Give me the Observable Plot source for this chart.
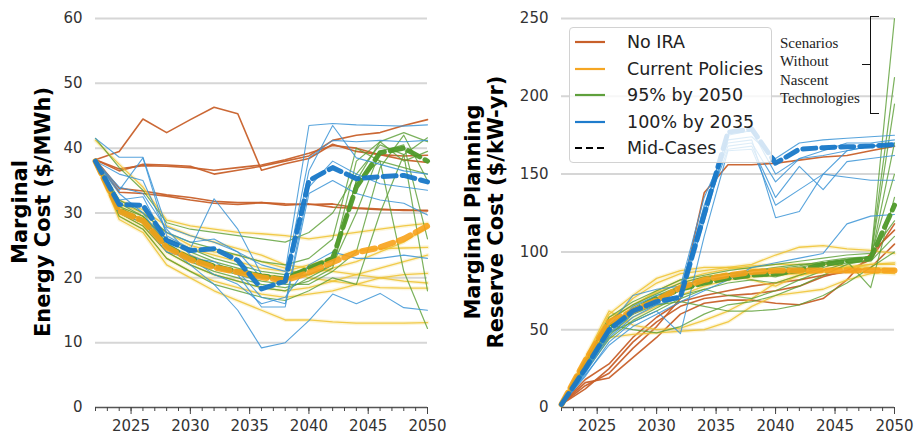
<!DOCTYPE html>
<html>
<head>
<meta charset="utf-8">
<script src="https://cdn.jsdelivr.net/npm/d3@7"></script>
<script src="https://cdn.jsdelivr.net/npm/@observablehq/plot@0.6"></script>
<style>
  body { margin: 0; background: #fff; font-family: "DejaVu Sans", sans-serif; }
  #wrap { position: relative; width: 914px; height: 436px; overflow: hidden; background: #fff; }
  .panel { position: absolute; top: 0; }
  .ylab { position: absolute; font-weight: bold; font-size: 21px; line-height: 23px; text-align: center;
          white-space: nowrap; transform: translate(-50%, -50%) rotate(-90deg); color: #000; }
  #legend { position: absolute; left: 569px; top: 27px; width: 203px; height: 136px; box-sizing: border-box;
            border: 1px solid #d2d2d2; border-radius: 4px; background: rgba(255,255,255,0.8); padding-top: 1px; z-index: 5; }
  .li { display: flex; align-items: center; height: 26.5px; font-size: 17.5px; color: #222; }
  .li svg { margin-left: 5px; margin-right: 22px; flex: none; }
  #note { position: absolute; left: 780px; top: 34px; font-family: "Liberation Serif", serif; font-size: 15px;
          line-height: 18.3px; color: #222; z-index: 5; }
  .br { position: absolute; border-color: #111; border-style: solid; z-index: 5; }
</style>
</head>
<body>
<div id="wrap">
  <div class="panel" id="leftPanel" style="left:0"></div>
  <div class="panel" id="rightPanel" style="left:457px"></div>
  <div class="ylab" style="left:32px; top:212px;">Marginal<br>Energy Cost ($/MWh)</div>
  <div class="ylab" style="left:485px; top:212px;">Marginal Planning<br>Reserve Cost ($/kW-yr)</div>
  <div id="legend"></div>
  <div id="note">Scenarios<br>Without<br>Nascent<br>Technologies</div>
  <div class="br" style="left:870px; top:16px; width:8px; height:96px; border-width:1.5px 0 1.5px 1.5px;"></div>
  <div class="br" style="left:862px; top:64px; width:8px; height:0; border-width:1.5px 0 0 0;"></div>
</div>
<script>
// ---------- shared ----------
const years = [2022, 2024, 2026, 2028, 2030, 2032, 2034, 2036, 2038, 2040, 2042, 2044, 2046, 2048, 2050];
const xMajorTicks = [2025, 2030, 2035, 2040, 2045, 2050];
const scenarioNames = ["No IRA", "Current Policies", "95% by 2050", "100% by 2035", "Mid-Cases"];
const scenarioColors = ["#c8602a", "#f5a623", "#5fa03c", "#1f7ccc", "#000000"];

// ---------- left panel: marginal energy cost ($/MWh) ----------
const energyTicks = [0, 10, 20, 30, 40, 50, 60];
const energyNoIRA = [
  [38.2, 39.5, 44.5, 42.4, 44.4, 46.3, 45.3, 36.6, 37.6, 38.4, 40.6, 39.5, 39.0, 38.8, 38.9],
  [38.2, 36.5, 37.5, 37.4, 37.2, 36.0, 36.6, 37.2, 38.0, 38.8, 41.2, 42.0, 42.4, 43.5, 44.4],
  [38.2, 36.8, 37.3, 37.2, 37.0, 36.6, 37.0, 37.4, 38.2, 39.2, 40.4, 40.0, 39.0, 38.2, 37.8],
  [38.2, 33.8, 33.4, 32.8, 32.4, 31.8, 31.6, 31.6, 31.4, 31.3, 31.4, 30.8, 30.6, 30.4, 30.4],
  [38.2, 33.2, 33.0, 32.6, 32.0, 31.5, 31.3, 31.6, 31.2, 31.4, 30.9, 30.7, 30.5, 30.5, 30.3]
];
const energyCurrent = [
  [38.0, 30.5, 29.0, 25.0, 23.5, 22.0, 21.0, 20.5, 20.0, 20.5, 21.5, 22.5, 24.0, 25.5, 27.8],
  [38.0, 31.0, 29.5, 26.0, 24.5, 23.5, 22.5, 21.5, 21.0, 22.0, 23.0, 24.2, 24.5, 24.6, 24.7],
  [41.2, 37.5, 34.0, 28.9, 28.0, 27.5, 27.0, 26.8, 26.5, 26.0, 26.5, 27.0, 27.5, 28.0, 28.4],
  [38.0, 29.5, 27.5, 23.0, 21.0, 19.5, 18.5, 17.5, 17.0, 17.5, 18.0, 19.0, 20.0, 20.5, 20.7],
  [38.0, 29.0, 27.0, 22.0, 20.0, 18.0, 16.5, 15.0, 13.5, 13.5, 13.2, 13.0, 13.0, 13.0, 13.1],
  [38.0, 31.5, 30.0, 27.0, 25.0, 24.0, 23.5, 22.5, 21.5, 20.0, 19.5, 19.0, 18.5, 18.4, 18.4],
  [38.0, 30.0, 28.0, 24.0, 22.0, 20.5, 19.5, 18.5, 18.0, 18.5, 19.5, 20.5, 21.5, 22.5, 23.5],
  [38.0, 32.0, 30.5, 28.0, 26.5, 25.5, 24.5, 23.5, 22.0, 21.5, 21.0, 20.5, 20.0, 19.5, 19.2]
];
const energy95 = [
  [38.0, 31.0, 29.5, 26.0, 24.5, 23.0, 22.0, 21.0, 20.5, 21.5, 23.0, 38.0, 41.0, 42.4, 41.0],
  [38.0, 30.0, 28.0, 24.0, 22.0, 20.5, 19.5, 18.5, 18.0, 20.0, 22.0, 35.0, 38.0, 21.0, 12.2],
  [38.0, 32.0, 30.0, 27.0, 25.5, 24.5, 23.5, 22.5, 22.0, 23.0, 26.0, 40.0, 38.0, 37.0, 36.0],
  [41.5, 37.0, 33.5, 28.5, 27.5, 27.0, 26.5, 26.0, 25.5, 27.0, 30.0, 36.0, 40.5, 39.0, 41.6],
  [38.0, 29.5, 27.5, 23.0, 21.0, 19.0, 18.0, 17.0, 16.5, 18.0, 20.0, 19.0, 30.0, 39.0, 18.0],
  [38.0, 30.5, 29.0, 25.0, 23.0, 21.5, 20.5, 19.5, 19.0, 19.0, 21.0, 24.0, 37.0, 42.0, 35.0],
  [38.0, 31.5, 29.5, 25.5, 24.0, 22.5, 21.5, 20.5, 20.0, 20.5, 22.0, 30.0, 39.5, 40.5, 26.0],
  [38.0, 30.0, 28.5, 24.5, 22.5, 21.0, 20.0, 19.0, 18.5, 19.5, 21.5, 35.0, 41.0, 38.0, 39.5]
];
const energy100 = [
  [41.5, 38.6, 38.6, 27.8, 26.5, 25.5, 24.0, 22.0, 21.0, 43.5, 43.8, 43.6, 43.5, 43.4, 43.6],
  [38.0, 33.5, 38.5, 26.5, 24.5, 32.2, 27.5, 20.5, 19.0, 36.5, 43.5, 38.5, 37.5, 36.5, 36.0],
  [38.0, 34.0, 33.0, 27.5, 23.5, 22.0, 21.0, 17.0, 16.0, 34.0, 38.0, 36.0, 34.5, 34.0, 33.5],
  [38.0, 32.0, 32.5, 25.5, 23.0, 22.5, 20.5, 15.5, 15.5, 33.0, 35.0, 33.0, 32.0, 31.5, 29.7],
  [38.0, 30.0, 28.5, 24.0, 23.0, 20.5, 19.0, 16.0, 17.0, 22.0, 24.0, 23.0, 23.0, 23.5, 23.0],
  [38.0, 33.0, 30.0, 25.0, 22.0, 19.0, 15.0, 9.2, 10.0, 13.4, 17.5, 16.0, 17.6, 15.4, 15.0],
  [38.0, 36.0, 35.0, 27.0, 25.5, 26.0, 24.0, 20.0, 20.0, 38.5, 41.2, 41.0, 41.2, 41.0, 41.2]
];
const energyMidCurrent = [38.0, 30.3, 28.8, 24.7, 22.8, 21.6, 20.9, 20.1, 19.6, 20.8, 22.4, 23.9, 24.7, 26.0, 28.0];
const energyMid95 = [38.0, 30.5, 28.8, 24.9, 23.0, 21.8, 21.0, 20.3, 19.8, 21.5, 23.0, 34.0, 39.3, 40.0, 38.0];
const energyMid100 = [38.0, 31.3, 31.2, 25.8, 24.2, 24.5, 22.7, 18.3, 19.5, 35.0, 37.0, 35.3, 35.6, 35.8, 34.8];

// ---------- right panel: marginal planning reserve cost ($/kW-yr) ----------
const reserveTicks = [0, 50, 100, 150, 200, 250];
const reserveNoIRA = [
  [2, 14, 22, 38, 52, 70, 138, 156, 156, 157, 159, 161, 162, 165, 168],
  [2, 16, 19, 32, 45, 60, 67, 69, 69, 67, 66, 70, 82, 99, 114],
  [2, 18, 28, 45, 58, 68, 72, 75, 78, 80, 82, 85, 87, 90, 105],
  [2, 12, 25, 42, 55, 65, 70, 72, 73, 75, 78, 84, 88, 95, 118]
];
const reserveCurrent = [
  [2, 28, 58, 65, 75, 82, 86, 89, 91, 92, 92, 92, 91, 90, 89],
  [2, 32, 62, 53, 50, 51, 56, 62, 70, 80, 85, 88, 90, 92, 93],
  [2, 30, 55, 70, 80, 86, 88, 90, 92, 98, 103, 104, 102, 101, 99],
  [2, 26, 48, 58, 65, 72, 78, 82, 84, 85, 86, 87, 87, 87, 86],
  [2, 29, 56, 66, 74, 80, 84, 86, 82, 78, 85, 88, 90, 92, 92],
  [2, 27, 45, 47, 48, 49, 50, 55, 65, 72, 74, 76, 82, 86, 88],
  [2, 31, 60, 72, 83, 88, 90, 90, 89, 88, 87, 89, 90, 89, 88]
];
const reserve95 = [
  [2, 25, 50, 64, 72, 78, 82, 84, 86, 88, 90, 93, 95, 96, 250],
  [2, 28, 56, 66, 73, 80, 84, 86, 86, 84, 88, 92, 95, 97, 212],
  [2, 24, 46, 60, 68, 75, 80, 84, 88, 90, 92, 93, 95, 96, 195],
  [2, 26, 53, 50, 48, 52, 60, 66, 68, 72, 78, 85, 92, 95, 170],
  [2, 27, 48, 55, 62, 70, 76, 80, 82, 80, 85, 90, 94, 77, 135],
  [2, 29, 58, 68, 75, 82, 85, 88, 90, 92, 94, 96, 98, 99, 120],
  [2, 23, 44, 56, 64, 72, 76, 72, 70, 75, 82, 88, 93, 94, 110],
  [2, 27, 52, 62, 70, 78, 83, 86, 88, 89, 91, 94, 96, 97, 150],
  [2, 26, 50, 60, 66, 68, 65, 62, 62, 63, 66, 72, 80, 90, 100]
];
const reserve100 = [
  [2, 22, 45, 58, 66, 70, 120, 172, 174, 160, 170, 172, 173, 174, 175],
  [2, 24, 48, 62, 70, 75, 130, 168, 170, 145, 160, 162, 165, 168, 170],
  [2, 20, 42, 55, 62, 47.5, 110, 165, 166, 130, 140, 150, 148, 146, 146],
  [2, 26, 52, 72, 76, 78, 135, 170, 172, 122, 126, 150, 165, 168, 168],
  [2, 23, 47, 60, 68, 72, 125, 166, 168, 135, 155, 140, 158, 160, 162],
  [2, 21, 40, 52, 60, 68, 75, 82, 90, 93, 96, 99, 118, 123, 124],
  [2, 25, 50, 65, 72, 76, 128, 175, 178, 150, 160, 165, 170, 170, 172]
];
const reserveMidCurrent = [2, 30, 55, 62, 69, 77, 82, 85, 87, 88, 88, 88, 88, 88, 88];
const reserveMid95 = [2, 28, 52, 62, 70, 76, 80, 83, 85, 86, 88, 92, 94, 96, 130];
const reserveMid100 = [2, 25, 50, 62, 68, 71, 124, 177, 179, 157, 166, 167, 167.5, 168, 169];

// ---------- helpers ----------
function toRows(list, tag) {
  return list.flatMap((vals, i) => vals.map((v, j) => ({year: years[j], value: v, id: tag + i})));
}
function oneRows(vals, tag) { return toRows([vals], tag); }

const C_NOIRA = scenarioColors[0], C_CUR = scenarioColors[1], C_95 = scenarioColors[2], C_100 = scenarioColors[3];
const THIN_YELLOW = "#eec22f", THIN_GREEN = "#5a9e33", THIN_BLUE = "#3b94d6";

function panel(cfg) {
  const L = {x: "year", y: "value", z: "id"};
  return Plot.plot({
    width: 457, height: 436,
    marginLeft: cfg.marginLeft, marginRight: cfg.marginRight, marginTop: 18, marginBottom: 29,
    x: {domain: [2022, 2050]},
    y: {domain: cfg.yDomain},
    style: {fontFamily: "DejaVu Sans, sans-serif", fontSize: "15px", color: "#333", background: "transparent", overflow: "visible"},
    marks: [
      Plot.gridY({ticks: cfg.yTicks.filter(d => d > 0), stroke: "#d6d6d6", strokeOpacity: 1, strokeWidth: 2}),
      Plot.axisY({ticks: cfg.yTicks, tickSize: 0, tickPadding: 13, label: null, fill: "#333"}),
      Plot.ruleY([0], {stroke: "#555", strokeWidth: 1.3}),
      Plot.axisX({ticks: d3.range(2022, 2051), tickSize: 4, tickFormat: () => "", label: null, stroke: "#444"}),
      Plot.axisX({ticks: xMajorTicks, tickSize: 7, tickPadding: 6, tickFormat: d => String(d), label: null, stroke: "#444", fill: "#333"}),
      // thin scenario lines
      Plot.line(toRows(cfg.noira, "n"), {...L, stroke: C_NOIRA, strokeWidth: 1.6, strokeOpacity: 0.95}),
      Plot.line(toRows(cfg.current, "c"), {...L, stroke: "#f5d66a", strokeWidth: 4, strokeOpacity: 0.25}),
      Plot.line(toRows(cfg.current, "c"), {...L, stroke: THIN_YELLOW, strokeWidth: 1.3, strokeOpacity: 0.85}),
      Plot.line(toRows(cfg.p95, "g"), {...L, stroke: THIN_GREEN, strokeWidth: 1.2, strokeOpacity: 0.8}),
      Plot.line(toRows(cfg.p100, "b"), {...L, stroke: THIN_BLUE, strokeWidth: 1.1, strokeOpacity: 0.85}),
      // mid-cases
      Plot.line(oneRows(cfg.mid95, "mg"), {...L, stroke: "#4f9a2a", strokeWidth: 5, strokeDasharray: "13,6", strokeOpacity: 0.95}),
      Plot.line(oneRows(cfg.midCurrent, "mc"), {...L, stroke: "#f7a21b", strokeWidth: 6, strokeDasharray: "13,6", strokeOpacity: 0.9}),
      Plot.line(oneRows(cfg.mid100, "mb"), {...L, stroke: "#1878c8", strokeWidth: 5, strokeDasharray: "13,6", strokeOpacity: 0.95})
    ]
  });
}

document.getElementById("leftPanel").append(panel({
  marginLeft: 95, marginRight: 30, yDomain: [0, 60], yTicks: energyTicks,
  noira: energyNoIRA, current: energyCurrent, p95: energy95, p100: energy100,
  midCurrent: energyMidCurrent, mid95: energyMid95, mid100: energyMid100
}));
document.getElementById("rightPanel").append(panel({
  marginLeft: 104, marginRight: 20, yDomain: [0, 250], yTicks: reserveTicks,
  noira: reserveNoIRA, current: reserveCurrent, p95: reserve95, p100: reserve100,
  midCurrent: reserveMidCurrent, mid95: reserveMid95, mid100: reserveMid100
}));

// ---------- legend ----------
const legend = document.getElementById("legend");
scenarioNames.forEach((name, i) => {
  const row = document.createElement("div");
  row.className = "li";
  const dash = i === 4 ? ' stroke-dasharray="7,4"' : '';
  row.innerHTML = `<svg width="30" height="4"><line x1="0" y1="2" x2="30" y2="2" stroke="${scenarioColors[i]}" stroke-width="2.2"${dash}/></svg><span>${name}</span>`;
  legend.append(row);
});
</script>
</body>
</html>
